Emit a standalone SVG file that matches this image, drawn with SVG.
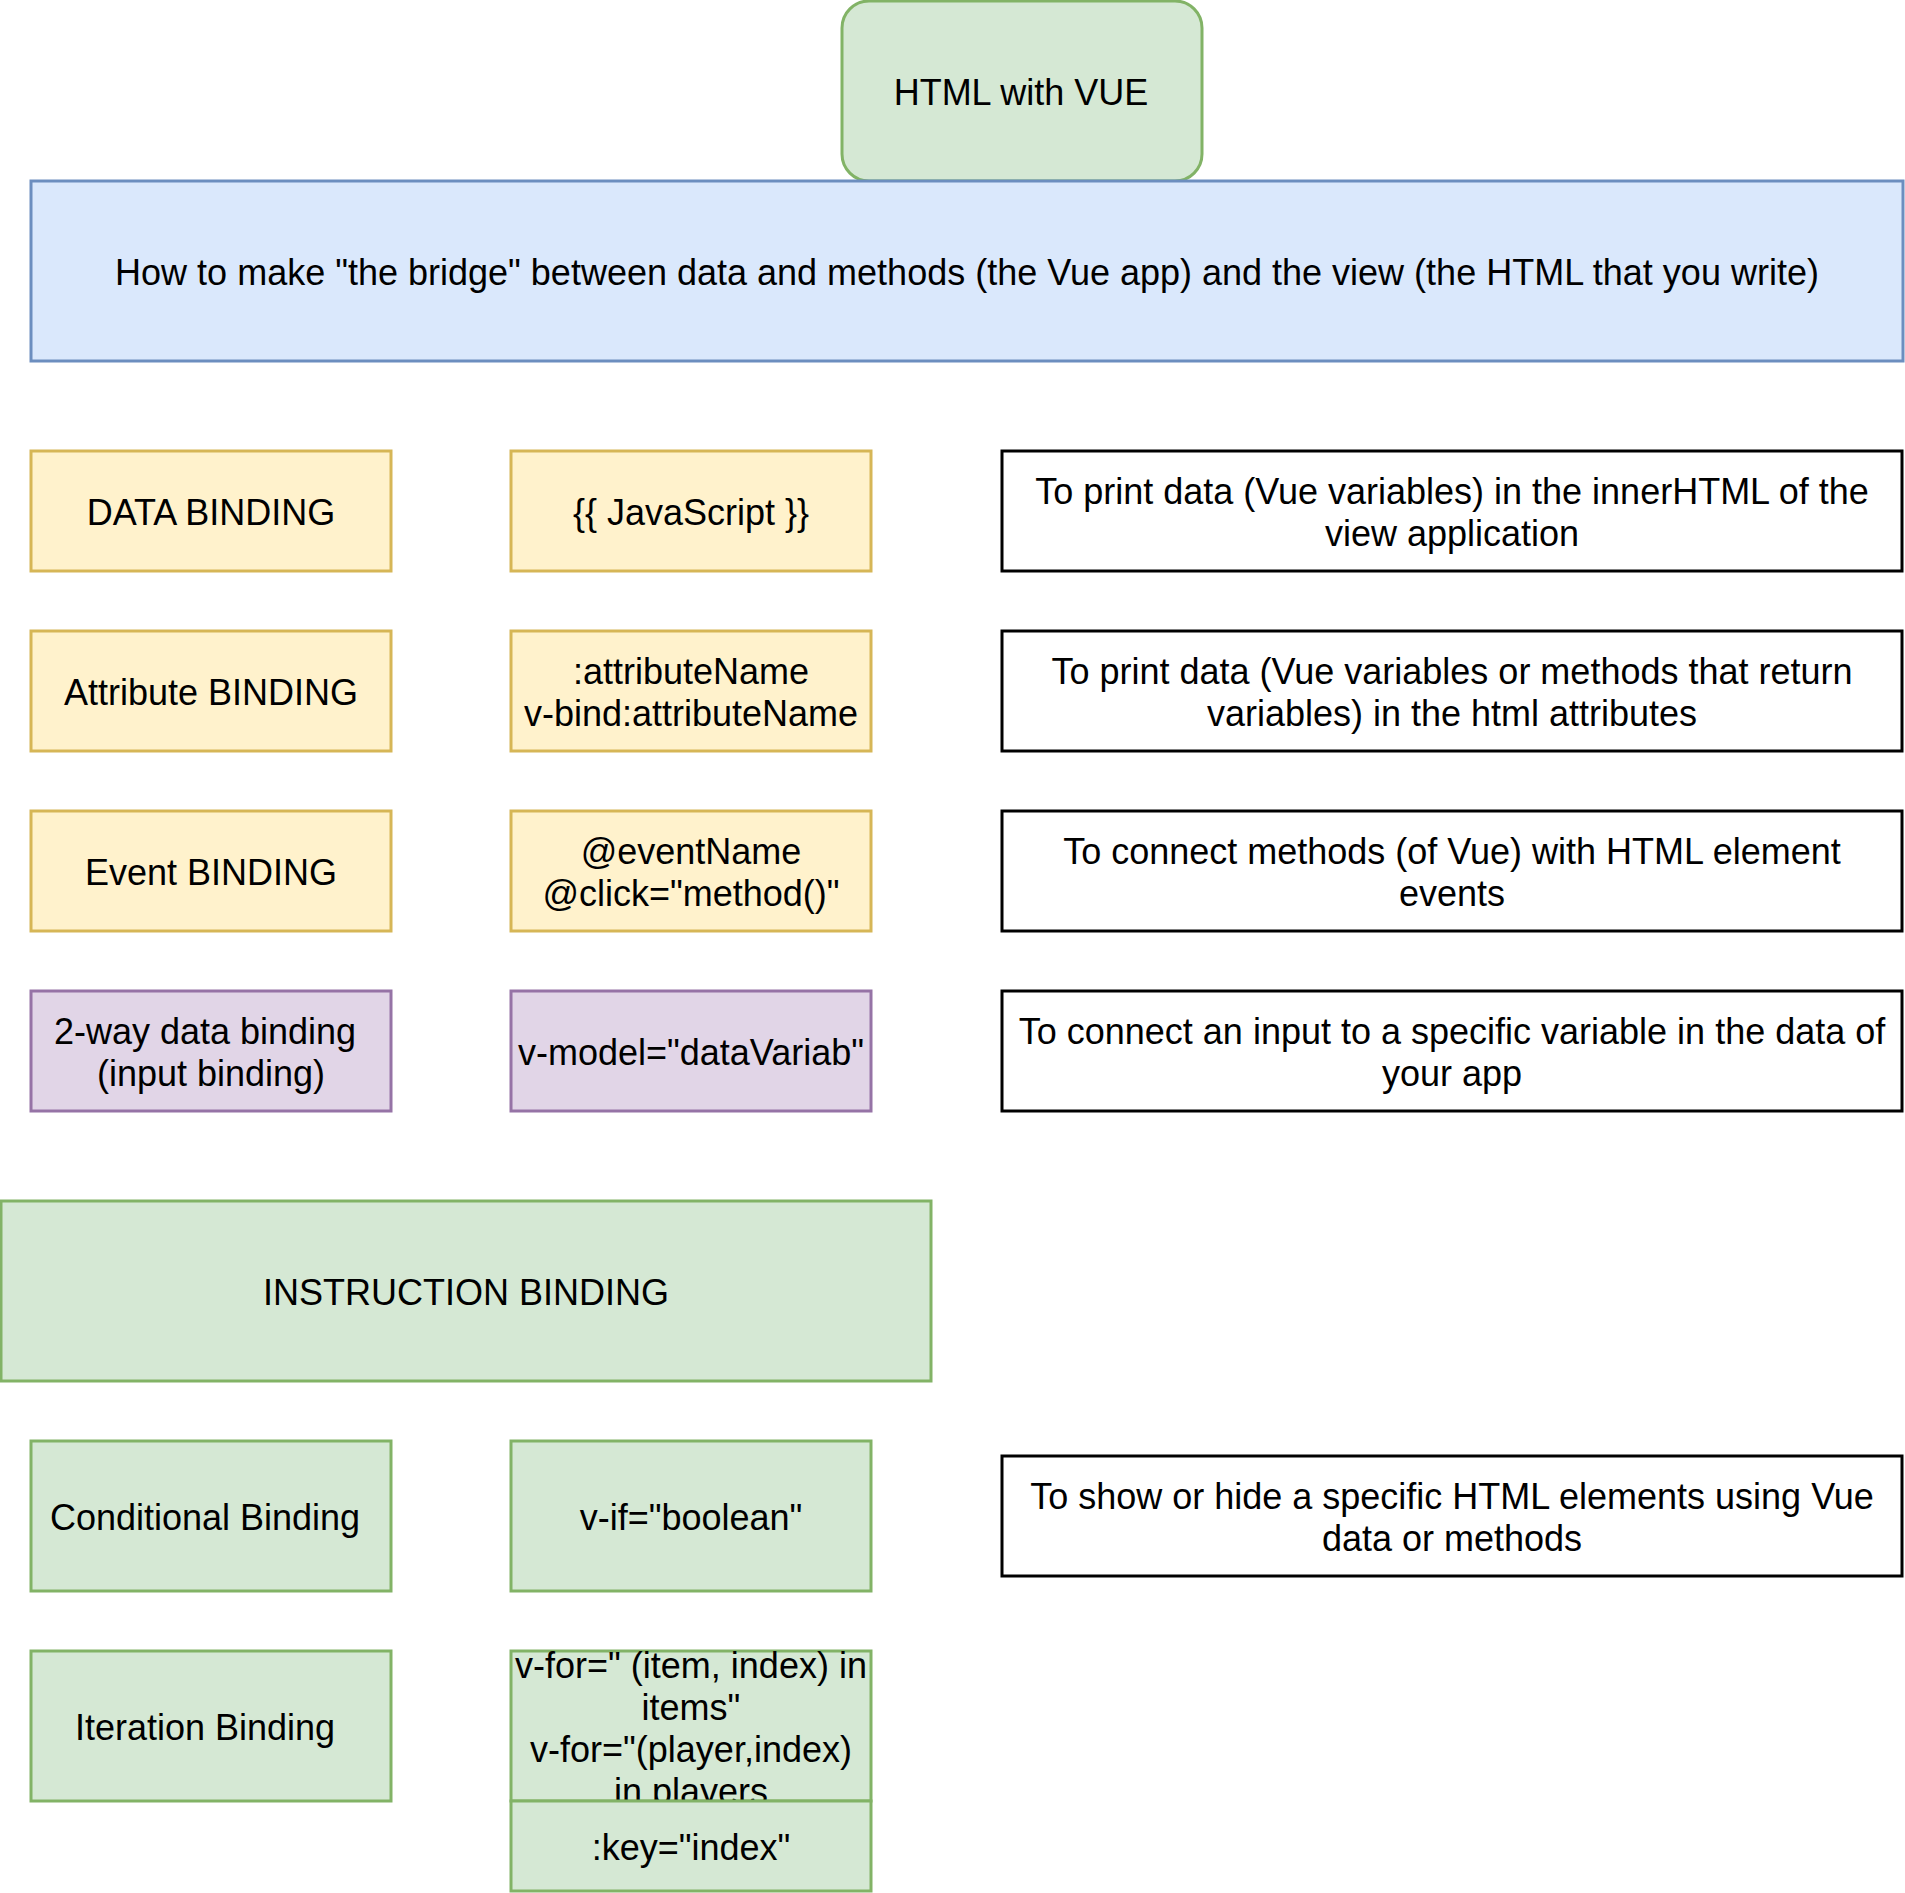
<svg xmlns="http://www.w3.org/2000/svg" width="1905" height="1893" viewBox="0 0 1905 1893">
<style>
text{font-family:"Liberation Sans",Arial,Helvetica,sans-serif;font-size:36px;fill:#000;text-anchor:middle}
rect{stroke-width:3}
.g{fill:#d5e8d4;stroke:#82b366}
.b{fill:#dae8fc;stroke:#6c8ebf}
.y{fill:#fff2cc;stroke:#d6b656}
.p{fill:#e1d5e7;stroke:#9673a6}
.w{fill:#fff;stroke:#000}
</style>
<rect x="0" y="0" width="1905" height="1893" fill="#fff" stroke="none"/>
<g id="connectors"></g>
<g id="html-vue"><rect class="g" x="842" y="1" width="360" height="180" rx="27" ry="27"/><text x="1021" y="105">HTML with VUE</text></g>
<g id="bridge"><rect class="b" x="31" y="181" width="1872" height="180"/><text x="967" y="285">How to make "the bridge" between data and methods (the Vue app) and the view (the HTML that you write)</text></g>

<g id="data-binding"><rect class="y" x="31" y="451" width="360" height="120"/><text x="211" y="525">DATA BINDING</text></g>
<g id="data-syntax"><rect class="y" x="511" y="451" width="360" height="120"/><text x="691" y="525">{{ JavaScript }}</text></g>
<g id="data-desc"><rect class="w" x="1002" y="451" width="900" height="120"/><text x="1452" y="504">To print data (Vue variables) in the innerHTML of the</text><text x="1452" y="546">view application</text></g>

<g id="attr-binding"><rect class="y" x="31" y="631" width="360" height="120"/><text x="211" y="705">Attribute BINDING</text></g>
<g id="attr-syntax"><rect class="y" x="511" y="631" width="360" height="120"/><text x="691" y="684">:attributeName</text><text x="691" y="726">v-bind:attributeName</text></g>
<g id="attr-desc"><rect class="w" x="1002" y="631" width="900" height="120"/><text x="1452" y="684">To print data (Vue variables or methods that return</text><text x="1452" y="726">variables) in the html attributes</text></g>

<g id="event-binding"><rect class="y" x="31" y="811" width="360" height="120"/><text x="211" y="885">Event BINDING</text></g>
<g id="event-syntax"><rect class="y" x="511" y="811" width="360" height="120"/><text x="691" y="864">@eventName</text><text x="691" y="906">@click="method()"</text></g>
<g id="event-desc"><rect class="w" x="1002" y="811" width="900" height="120"/><text x="1452" y="864">To connect methods (of Vue) with HTML element</text><text x="1452" y="906">events</text></g>

<g id="twoway-binding"><rect class="p" x="31" y="991" width="360" height="120"/><text x="205" y="1044">2-way data binding</text><text x="211" y="1086">(input binding)</text></g>
<g id="twoway-syntax"><rect class="p" x="511" y="991" width="360" height="120"/><text x="691" y="1065">v-model="dataVariab"</text></g>
<g id="twoway-desc"><rect class="w" x="1002" y="991" width="900" height="120"/><text x="1452" y="1044">To connect an input to a specific variable in the data of</text><text x="1452" y="1086">your app</text></g>

<g id="instruction-binding"><rect class="g" x="1" y="1201" width="930" height="180"/><text x="466" y="1305">INSTRUCTION BINDING</text></g>

<g id="cond-binding"><rect class="g" x="31" y="1441" width="360" height="150"/><text x="205" y="1530">Conditional Binding</text></g>
<g id="cond-syntax"><rect class="g" x="511" y="1441" width="360" height="150"/><text x="691" y="1530">v-if="boolean"</text></g>
<g id="cond-desc"><rect class="w" x="1002" y="1456" width="900" height="120"/><text x="1452" y="1509">To show or hide a specific HTML elements using Vue</text><text x="1452" y="1551">data or methods</text></g>

<g id="iter-binding"><rect class="g" x="31" y="1651" width="360" height="150"/><text x="205" y="1740">Iteration Binding</text></g>
<g id="iter-syntax"><rect class="g" x="511" y="1651" width="360" height="150"/><text x="691" y="1678">v-for=" (item, index) in</text><text x="691" y="1720">items"</text><text x="691" y="1762">v-for="(player,index)</text><text x="691" y="1804">in players</text></g>
<g id="key-syntax"><rect class="g" x="511" y="1801" width="360" height="90"/><text x="691" y="1860">:key="index"</text></g>
</svg>
